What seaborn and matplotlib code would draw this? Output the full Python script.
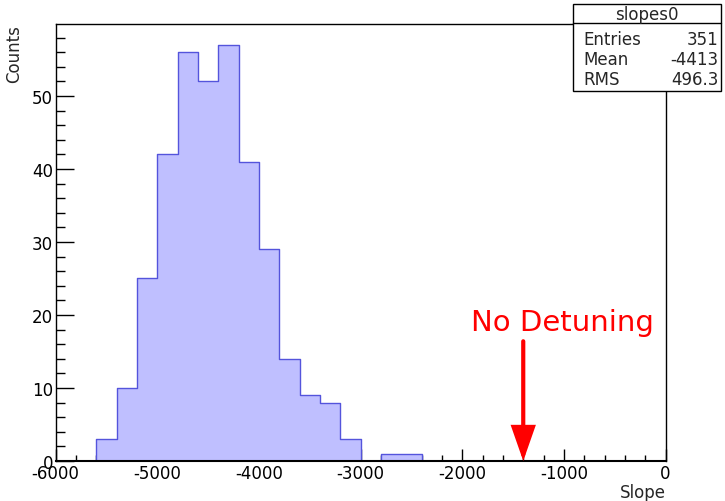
import numpy as np
import pandas as pd
import matplotlib
matplotlib.use("Agg")
import matplotlib.pyplot as plt
from matplotlib.patches import Rectangle
from matplotlib.lines import Line2D
from matplotlib.ticker import MultipleLocator
import seaborn as sns

# ---- data ----
bin_edges = [-5600, -5400, -5200, -5000, -4800, -4600, -4400, -4200, -4000,
             -3800, -3600, -3400, -3200, -3000, -2800, -2600, -2400]
counts = [3, 10, 25, 42, 56, 52, 57, 41, 29, 14, 9, 8, 3, 0, 1, 1]
hist_name = "slopes0"
stat_labels = ["Entries", "Mean", "RMS"]
stat_values = ["351", "-4413", "496.3"]
x_ticks = [-6000, -5000, -4000, -3000, -2000, -1000, 0]
y_ticks = [0, 10, 20, 30, 40, 50]
arrow_x = -1400
arrow_top = 16.4
annot_text = "No Detuning"
annot_pos = (-1016, 19.0)

sns.set_style("ticks")
plt.rcParams["font.family"] = ["DejaVu Sans"]

edges = np.array(bin_edges, dtype=float)
centers = (edges[:-1] + edges[1:]) / 2
df = pd.DataFrame({"slope": centers, "count": np.array(counts, dtype=float)})

fig = plt.figure(figsize=(7.25, 5.02), dpi=100)
ax = fig.add_axes([0.0768, 0.0797, 0.9180 - 0.0768, 0.9502 - 0.0797])

sns.histplot(data=df, x="slope", weights="count", bins=list(bin_edges), element="step",
             fill=True, color="#bfbfff", edgecolor="#5454dc", alpha=1,
             linewidth=1.0, ax=ax)

ax.set_xlim(-6000, 0)
ax.set_ylim(0, 59.85)
ax.set_xticks(x_ticks)
ax.set_xticklabels([str(v) for v in x_ticks])
ax.set_yticks(y_ticks)
ax.set_yticklabels([str(v) for v in y_ticks])
ax.xaxis.set_minor_locator(MultipleLocator(200))
ax.yaxis.set_minor_locator(MultipleLocator(2))
ax.tick_params(axis="both", which="both", direction="in", colors="black",
               labelsize=12, width=1, top=False, right=False)
ax.tick_params(axis="y", which="major", length=13, pad=2)
ax.tick_params(axis="y", which="minor", length=6.5)
ax.tick_params(axis="x", which="major", length=9, pad=2)
ax.tick_params(axis="x", which="minor", length=4.3)
for s in ax.spines.values():
    s.set_visible(True)
    s.set_linewidth(1.0)
    s.set_color("black")
ax.spines["bottom"].set_linewidth(1.5)

ax.set_xlabel("")
ax.set_ylabel("")
fig.text(0.9180, 0.018, "Slope", ha="right", va="center", fontsize=12)
fig.text(0.019, 0.9502, "Counts", ha="center", va="top", rotation=90, fontsize=12)

ax.annotate("", xy=(arrow_x, 0), xytext=(arrow_x, arrow_top),
            arrowprops=dict(arrowstyle="-|>,head_length=2.0,head_width=0.7",
                            color="red", lw=3.0, shrinkA=0, shrinkB=0,
                            joinstyle="miter"))
ax.text(annot_pos[0], annot_pos[1], annot_text, color="red", fontsize=21,
        ha="center", va="center")

# stats box
bx0, bx1, by0, by1 = 0.7903, 0.9945, 0.8167, 0.9900
ydiv = 0.9512
fig.add_artist(Rectangle((bx0, by0), bx1 - bx0, by1 - by0, transform=fig.transFigure,
                         facecolor="white", edgecolor="black", linewidth=1.0, zorder=5))
fig.add_artist(Line2D([bx0, bx1], [ydiv, ydiv], transform=fig.transFigure,
                      color="black", linewidth=1.0, zorder=6))
fig.text((bx0 + bx1) / 2, (by1 + ydiv) / 2, hist_name, ha="center", va="center",
         fontsize=12, zorder=7)
row_y = [1 - 40 / 502, 1 - 60 / 502, 1 - 80 / 502]
for lab, val, yy in zip(stat_labels, stat_values, row_y):
    fig.text(0.8041, yy, lab, ha="left", va="center", fontsize=12, zorder=7)
    fig.text(0.9915, yy, val, ha="right", va="center", fontsize=12, zorder=7)

fig.savefig("out.png", dpi=100)
